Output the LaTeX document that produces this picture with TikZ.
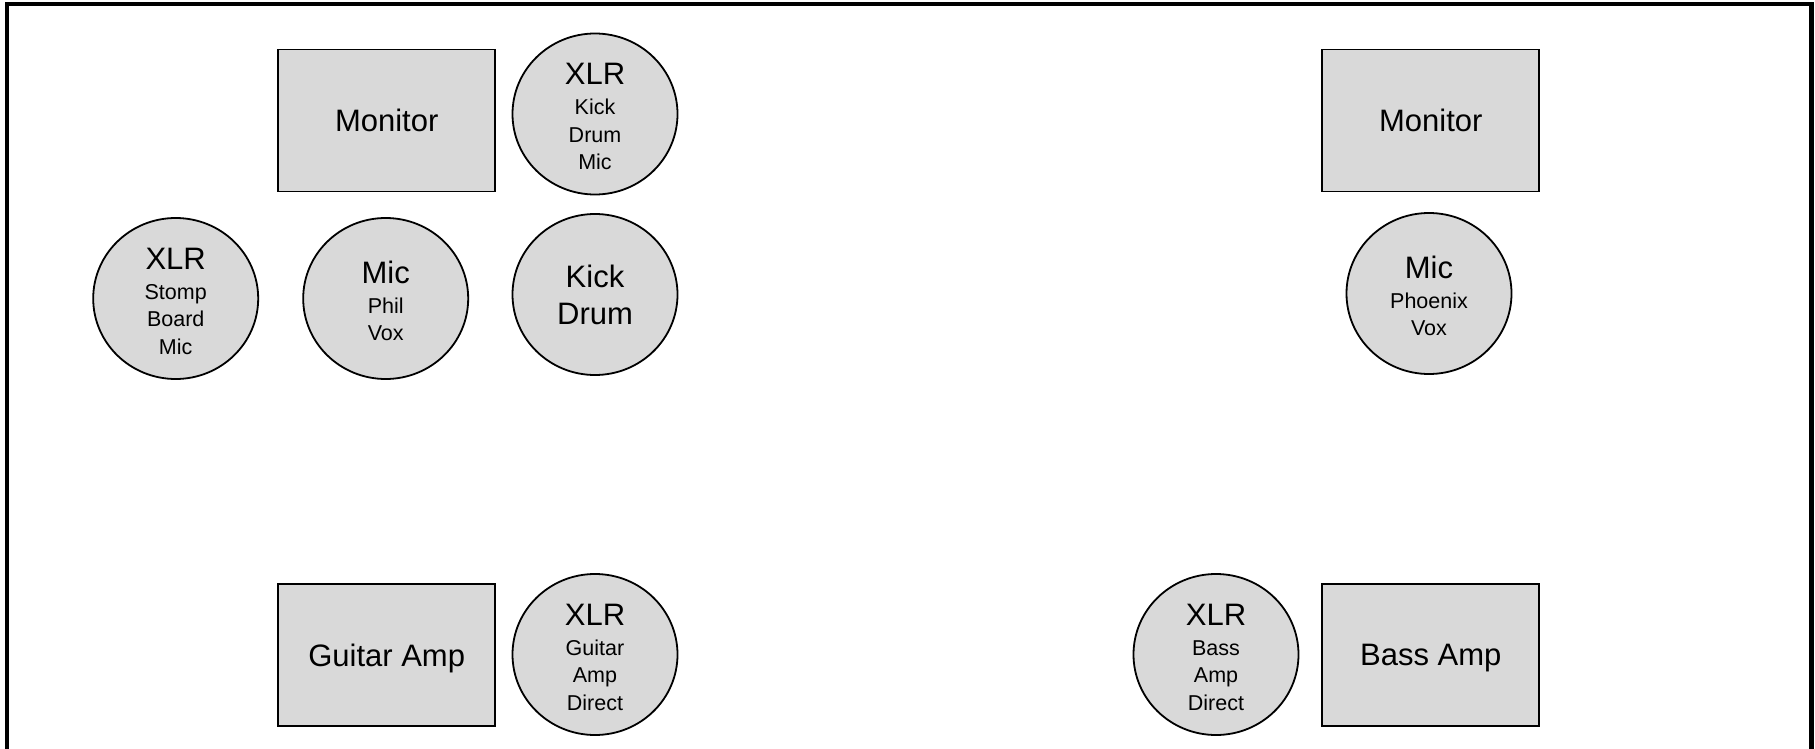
\documentclass[tikz,border=0pt]{standalone}
\usepackage{fontspec}
\setmainfont{Liberation Sans}
\usetikzlibrary{shapes.geometric}
\definecolor{boxgray}{RGB}{217,217,217}
\newcommand\bigline[1]{{\fontsize{31}{31}\selectfont\rule{0pt}{27pt}#1}}
\begin{document}
\begin{tikzpicture}[x=1pt,y=-1pt,
  box/.style={draw=black, line width=1.8pt, fill=boxgray, minimum width=217pt,
    minimum height=142pt, inner sep=0pt, text depth=0pt,
    font=\fontsize{31}{37}\selectfont},
  disc/.style={ellipse, draw=black, line width=1.8pt, fill=boxgray,
    minimum width=165pt, minimum height=161pt, inner sep=0pt, align=center,
    font=\fontsize{21.5}{27.5}\selectfont},
  bigdisc/.style={disc, font=\fontsize{31}{37}\selectfont}]
\useasboundingbox (0,0) rectangle (1815,749);
\clip (0,0) rectangle (1815,749);
\draw[line width=4.5pt] (7,4) rectangle (1811.5,780);
% left group
\node[box] (monL) at (386.7,120.5) {Monitor};
\node[disc] (kickmic) at (595,114) {\bigline{XLR}\\[2.5pt]Kick\\Drum\\Mic};
\node[disc] (stomp) at (175.7,298.5) {\bigline{XLR}\\[2.5pt]Stomp\\Board\\Mic};
\node[disc] (phil) at (385.7,298.5) {\bigline{Mic}\\[2.5pt]Phil\\Vox};
\node[bigdisc] (kick) at (595,294.5) {\rule{0pt}{24pt}Kick\\Drum};
\node[box] (gamp) at (386.7,654.8) {Guitar Amp};
\node[disc] (gdi) at (595,654.5) {\bigline{XLR}\\[2.5pt]Guitar\\Amp\\Direct};
% right group
\node[box] (monR) at (1430.8,120.5) {Monitor};
\node[disc] (phoenix) at (1429,293.5) {\bigline{Mic}\\[2.5pt]Phoenix\\Vox};
\node[disc] (bdi) at (1216,654.5) {\bigline{XLR}\\[2.5pt]Bass\\Amp\\Direct};
\node[box] (bamp) at (1430.8,654.8) {Bass Amp};
\end{tikzpicture}
\end{document}
